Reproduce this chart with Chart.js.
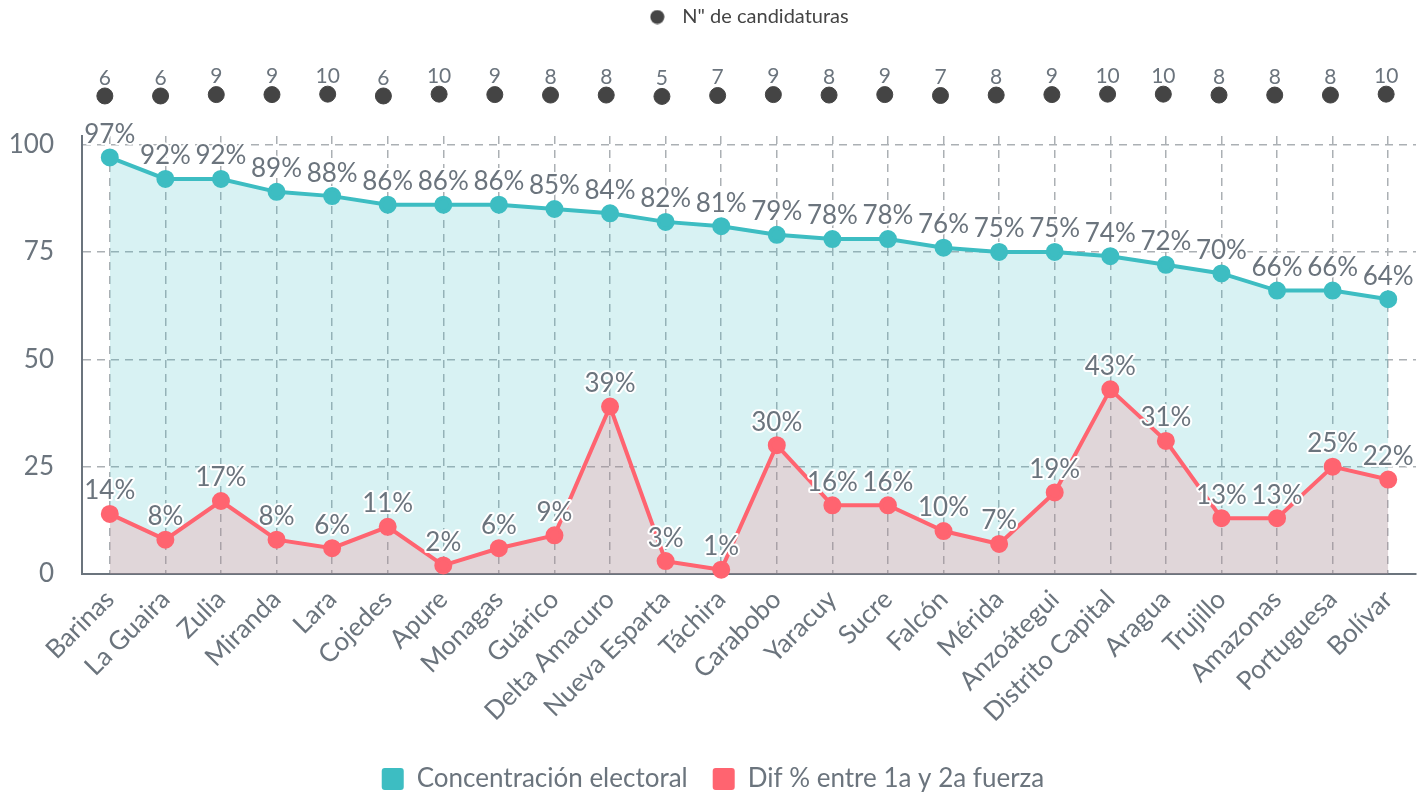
<!DOCTYPE html>
<html lang="es">
<head>
<meta charset="utf-8">
<script src="https://cdn.jsdelivr.net/npm/chart.js@4.4.1/dist/chart.umd.min.js"></script>
<style>
  body { margin: 0; background: #fff; }
  #wrap { position: relative; width: 1428px; height: 795px; overflow: hidden; }
  .caja { position: absolute; left: 0; width: 1428px; }
</style>
</head>
<body>
<div id="wrap">
  <div class="caja" style="top:0;height:110px"><canvas id="topChart"></canvas></div>
  <div class="caja" style="top:110px;height:692px"><canvas id="mainChart"></canvas></div>
</div>
<script>
// --- datos ---
const estados = ['Barinas', 'La Guaira', 'Zulia', 'Miranda', 'Lara', 'Cojedes', 'Apure', 'Monagas',
  'Guárico', 'Delta Amacuro', 'Nueva Esparta', 'Táchira', 'Carabobo', 'Yaracuy', 'Sucre', 'Falcón',
  'Mérida', 'Anzoátegui', 'Distrito Capital', 'Aragua', 'Trujillo', 'Amazonas', 'Portuguesa', 'Bolívar'];
const concentracion = [97, 92, 92, 89, 88, 86, 86, 86, 85, 84, 82, 81, 79, 78, 78, 76, 75, 75, 74, 72, 70, 66, 66, 64];
const diferencia = [14, 8, 17, 8, 6, 11, 2, 6, 9, 39, 3, 1, 30, 16, 16, 10, 7, 19, 43, 31, 13, 13, 25, 22];
const candidaturas = [6, 6, 9, 9, 10, 6, 10, 9, 8, 8, 5, 7, 9, 8, 9, 7, 8, 9, 10, 10, 8, 8, 8, 10];
const yTicks = [0, 25, 50, 75, 100];

const TEAL = '#3dbdc2';
const TEAL_FILL = 'rgba(61, 189, 194, 0.2)';
const ROJO = '#ff6470';
const ROJO_FILL = 'rgba(255, 100, 112, 0.2)';
const OSCURO = '#444444';
const GRIS = '#6b747d';
const GRID = '#abb0b4';

Chart.defaults.font.family = 'Lato';

// etiquetas encima de cada punto
const etiquetasPlugin = {
  id: 'etiquetas',
  afterDatasetsDraw(chart, args, opts) {
    const ctx = chart.ctx;
    ctx.save();
    ctx.font = `${opts.size}px Lato`;
    ctx.textAlign = 'center';
    ctx.textBaseline = 'middle';
    ctx.lineJoin = 'round';
    chart.data.datasets.forEach((ds, i) => {
      const meta = chart.getDatasetMeta(i);
      if (meta.hidden) return;
      meta.data.forEach((pt, j) => {
        const txt = ds.data[j] + (opts.suffix || '');
        const y = pt.y - opts.offset;
        if (opts.halo) {
          ctx.strokeStyle = '#fff';
          ctx.lineWidth = 4;
          ctx.strokeText(txt, pt.x, y);
        }
        ctx.fillStyle = opts.color;
        ctx.fillText(txt, pt.x, y);
      });
    });
    ctx.restore();
  }
};

// circulito para la leyenda de arriba (deja mas aire antes del texto)
const puntoLeyenda = document.createElement('canvas');
puntoLeyenda.width = 15;
puntoLeyenda.height = 15;
{
  const c = puntoLeyenda.getContext('2d');
  c.fillStyle = OSCURO;
  c.beginPath();
  c.arc(7.5, 7.5, 7, 0, Math.PI * 2);
  c.fill();
}

// --- grafica superior: candidaturas ---
new Chart(document.getElementById('topChart'), {
  type: 'line',
  data: {
    labels: estados,
    datasets: [{
      label: 'N" de candidaturas',
      data: candidaturas,
      showLine: false,
      clip: false,
      pointRadius: 8,
      pointBackgroundColor: OSCURO,
      pointBorderColor: OSCURO,
      borderColor: OSCURO,
      backgroundColor: OSCURO
    }]
  },
  options: {
    responsive: true,
    maintainAspectRatio: false,
    animation: false,
    layout: { padding: { left: 77, right: 14, top: 0, bottom: 4 } },
    scales: {
      x: { display: false, offset: true },
      y: { display: false, min: -5, max: 135 }
    },
    plugins: {
      legend: {
        position: 'top',
        labels: {
          usePointStyle: true,
          pointStyle: puntoLeyenda,
          pointStyleWidth: 30,
          boxHeight: 14,
          padding: 7,
          color: OSCURO,
          font: { size: 20 }
        }
      },
      tooltip: { enabled: false },
      etiquetas: { size: 21, offset: 18, color: GRIS, suffix: '', halo: false }
    }
  },
  plugins: [etiquetasPlugin]
});

// --- grafica principal ---
new Chart(document.getElementById('mainChart'), {
  type: 'line',
  data: {
    labels: estados,
    datasets: [
      {
        label: 'Concentración electoral',
        data: concentracion,
        borderColor: TEAL,
        backgroundColor: TEAL_FILL,
        pointBackgroundColor: TEAL,
        pointBorderColor: TEAL,
        borderWidth: 4,
        pointRadius: 7,
        fill: 'origin',
        tension: 0,
        clip: false,
        order: 1
      },
      {
        label: 'Dif % entre 1a y 2a fuerza',
        data: diferencia,
        borderColor: ROJO,
        backgroundColor: ROJO_FILL,
        pointBackgroundColor: ROJO,
        pointBorderColor: ROJO,
        borderWidth: 4,
        pointRadius: 7,
        fill: 'origin',
        tension: 0,
        clip: false,
        order: 0
      }
    ]
  },
  options: {
    responsive: true,
    maintainAspectRatio: false,
    animation: false,
    layout: { padding: { left: 10, right: 12, top: 26, bottom: 0 } },
    scales: {
      x: {
        offset: true,
        grid: { color: GRID, lineWidth: 1.5, drawTicks: false },
        border: { color: GRIS, width: 2, dash: [8, 6] },
        ticks: { color: GRIS, font: { size: 26 }, maxRotation: 45, minRotation: 45, autoSkip: false, padding: 10 },
        afterFit: s => { s.height = 167; }
      },
      y: {
        min: 0,
        max: 102,
        grid: { color: GRID, lineWidth: 1.5, drawTicks: false },
        border: { color: GRIS, width: 2, dash: [8, 6] },
        ticks: { stepSize: 25, color: GRIS, font: { size: 26 }, padding: 28 },
        afterBuildTicks: s => { s.ticks = yTicks.map(v => ({ value: v })); },
        afterFit: s => { s.width = 72; s.paddingTop = 0; }
      }
    },
    plugins: {
      legend: {
        position: 'bottom',
        labels: {
          boxWidth: 22,
          boxHeight: 22,
          padding: 25,
          color: GRIS,
          font: { size: 26 },
          useBorderRadius: true,
          borderRadius: 3,
          generateLabels: chart => chart.data.datasets.map((ds, i) => ({
            text: ds.label,
            fillStyle: ds.borderColor,
            strokeStyle: ds.borderColor,
            lineWidth: 0,
            hidden: false,
            datasetIndex: i,
            fontColor: GRIS,
            borderRadius: 3
          }))
        }
      },
      tooltip: { enabled: false },
      filler: { drawTime: 'beforeDatasetsDraw' },
      etiquetas: { size: 26, offset: 23, color: GRIS, suffix: '%', halo: true }
    }
  },
  plugins: [etiquetasPlugin]
});
</script>
</body>
</html>
